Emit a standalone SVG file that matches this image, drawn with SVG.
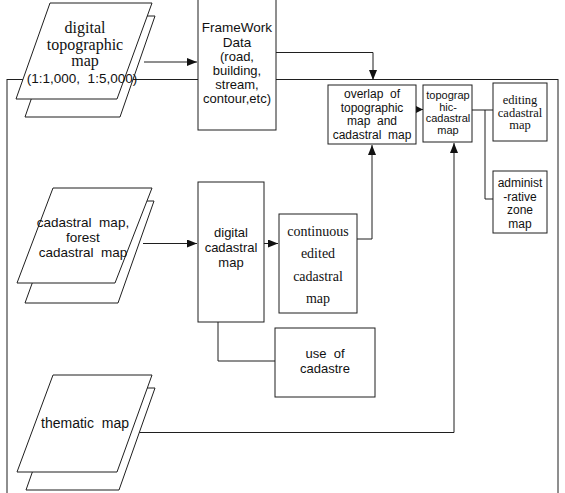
<svg xmlns="http://www.w3.org/2000/svg" width="565" height="493" viewBox="0 0 565 493">
<style>
.ln{fill:none;stroke:#1f1f1f;stroke-width:1}
.bx{fill:#fff;stroke:#1f1f1f;stroke-width:1}
.s{font-family:"Liberation Sans",Arial,sans-serif;fill:#111;text-anchor:middle;white-space:pre}
.r{font-family:"Liberation Serif","Times New Roman",serif;fill:#111;text-anchor:middle}
</style>
<defs>
<marker id="ah" markerUnits="userSpaceOnUse" markerWidth="10" markerHeight="8" refX="10" refY="4" orient="auto">
<path d="M0,0 L10,4 L0,8 z" fill="#111"/>
</marker>
<marker id="ahs" markerUnits="userSpaceOnUse" markerWidth="7" markerHeight="7" refX="7" refY="3.5" orient="auto">
<path d="M0,0 L7,3.5 L0,7 z" fill="#111"/>
</marker>
</defs>
<rect width="565" height="493" fill="#fff"/>

<g id="connectors">
<rect class="ln" x="7" y="79.5" width="551" height="450"/>
<path class="ln" d="M144,62 H197" marker-end="url(#ah)"/>
<path class="ln" d="M276,52.5 H373 V80" marker-end="url(#ah)"/>
<path class="ln" d="M416,109.5 H423" marker-end="url(#ahs)"/>
<path class="ln" d="M472,110 H493 M485,110 V199 H493"/>
<path class="ln" d="M357,239 H372 V145" marker-end="url(#ah)"/>
<path class="ln" d="M130,432.5 H454 V143" marker-end="url(#ah)"/>
<path class="ln" d="M143,243.5 H197" marker-end="url(#ah)"/>
<path class="ln" d="M264,243.5 H278" marker-end="url(#ah)"/>
<path class="ln" d="M218,322 V361 H275"/>
</g>

<g id="digital-topographic-map">
<polygon class="bx" points="60,16 155,16 120,117 25,117"/>
<polygon class="bx" points="50,3 152,3 117,99 16,99"/>
<text class="r" font-size="16" x="85" y="33">digital</text>
<text class="r" font-size="16" x="85" y="50">topographic</text>
<text class="r" font-size="16" x="85" y="66">map</text>
<text class="s" font-size="13.5" x="82" y="83" xml:space="preserve">(1:1,000,  1:5,000)</text>
</g>

<g id="framework-data">
<rect class="bx" x="198" y="-2" width="78" height="132"/>
<text class="s" font-size="13.5" x="237" y="32">FrameWork</text>
<text class="s" font-size="13.5" x="237" y="47">Data</text>
<text class="s" font-size="13" x="237" y="61">(road,</text>
<text class="s" font-size="13" x="237" y="75">building,</text>
<text class="s" font-size="13" x="237" y="89">stream,</text>
<text class="s" font-size="13" x="237" y="103">contour,etc)</text>
</g>

<g id="overlap">
<rect class="bx" x="328" y="85" width="88" height="59"/>
<text class="s" font-size="12" x="372" y="98" xml:space="preserve">overlap  of</text>
<text class="s" font-size="12" x="372" y="111.5">topographic</text>
<text class="s" font-size="12" x="372" y="125" xml:space="preserve">map  and</text>
<text class="s" font-size="12" x="372" y="138.5" xml:space="preserve">cadastral  map</text>
</g>

<g id="topographic-cadastral-map">
<rect class="bx" x="423" y="85" width="49" height="57"/>
<text class="s" font-size="11" x="448" y="99">topograp</text>
<text class="s" font-size="11" x="448" y="110.5">hic-</text>
<text class="s" font-size="11" x="448" y="122">cadastral</text>
<text class="s" font-size="11" x="448" y="133.5">map</text>
</g>

<g id="editing-cadastral-map">
<rect class="bx" x="493" y="83" width="54" height="58"/>
<text class="r" font-size="12.5" x="520" y="104">editing</text>
<text class="r" font-size="12.5" x="520" y="116.5">cadastral</text>
<text class="r" font-size="12.5" x="520" y="129">map</text>
</g>

<g id="administrative-zone-map">
<rect class="bx" x="493" y="171" width="54" height="62"/>
<text class="s" font-size="12" x="520" y="187">administ</text>
<text class="s" font-size="12" x="520" y="200.5">-rative</text>
<text class="s" font-size="12" x="520" y="214">zone</text>
<text class="s" font-size="12" x="520" y="227.5">map</text>
</g>

<g id="cadastral-map">
<polygon class="bx" points="62,201 154,201 118,303 25,303"/>
<polygon class="bx" points="53,188 152,188 115,283 17,283"/>
<text class="s" font-size="13.5" x="83" y="227" xml:space="preserve">cadastral  map,</text>
<text class="s" font-size="13.5" x="83" y="242">forest</text>
<text class="s" font-size="13.5" x="83" y="256.5" xml:space="preserve">cadastral  map</text>
</g>

<g id="digital-cadastral-map">
<rect class="bx" x="198" y="182" width="66" height="140"/>
<text class="s" font-size="13" x="231" y="237">digital</text>
<text class="s" font-size="13" x="231" y="252">cadastral</text>
<text class="s" font-size="13" x="231" y="267">map</text>
</g>

<g id="continuous-edited-cadastral-map">
<rect class="bx" x="279" y="214" width="78" height="99"/>
<text class="r" font-size="14" x="318" y="236">continuous</text>
<text class="r" font-size="14" x="318" y="258">edited</text>
<text class="r" font-size="14" x="318" y="280.5">cadastral</text>
<text class="r" font-size="14" x="318" y="302.5">map</text>
</g>

<g id="use-of-cadastre">
<rect class="bx" x="275" y="328" width="100" height="69"/>
<text class="s" font-size="13" x="325" y="358" xml:space="preserve">use  of</text>
<text class="s" font-size="13" x="325" y="373">cadastre</text>
</g>

<g id="thematic-map">
<polygon class="bx" points="62,388 155,388 119,490 26,490"/>
<polygon class="bx" points="53,375 152,375 117,472 17,472"/>
<text class="s" font-size="14" x="85" y="428" xml:space="preserve">thematic  map</text>
</g>
</svg>
